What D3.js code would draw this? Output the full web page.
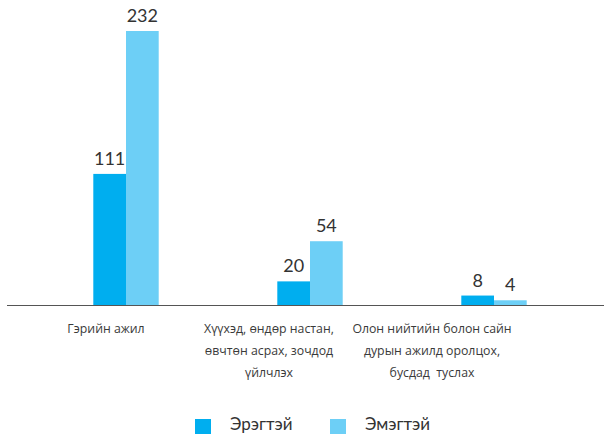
<!DOCTYPE html>
<html>
<head>
<meta charset="utf-8">
<script src="https://cdn.jsdelivr.net/npm/d3@7"></script>
<style>
  body { margin: 0; background: #fff; }
  text { font-family: Lato, "Open Sans", sans-serif; fill: #333; white-space: pre; }
  text.cat { font-family: "Open Sans", sans-serif; fill: #3a3a3a; }
</style>
</head>
<body>
<div id="chart"></div>
<script>
const categories = [
  ["Гэрийн ажил"],
  ["Хүүхэд, өндөр настан,", "өвчтөн асрах, зочдод", "үйлчлэх"],
  ["Олон нийтийн болон сайн", "дурын ажилд оролцох,", "бусдад  туслах"]
];
const seriesNames = ["Эрэгтэй", "Эмэгтэй"];
const men = [111, 20, 8];
const women = [232, 54, 4];
const colors = ["#00aeef", "#6dcff6"];

const W = 604, H = 434;
const svg = d3.select("#chart").append("svg")
  .attr("width", W).attr("height", H);

const idx = d3.range(categories.length);
const x0 = d3.scaleBand().domain(idx).range([34, 586]);
const barW = 32.7;
const x1 = d3.scaleBand().domain([0, 1])
  .range([x0.bandwidth() / 2 - barW, x0.bandwidth() / 2 + barW]);
const y = d3.scaleLinear().domain([0, 232]).range([305, 31]);

// category labels sit on their own spacing, left of the bar groups
const xl = d3.scalePoint().domain(idx).range([106, 432]);

const rows = idx.flatMap(i => [
  { i, s: 0, v: men[i] },
  { i, s: 1, v: women[i] }
]);

const g = svg.append("g");

g.selectAll("rect.bar")
  .data(rows)
  .enter().append("rect")
  .attr("class", "bar")
  .attr("x", d => x0(d.i) + x1(d.s))
  .attr("width", x1.bandwidth())
  .attr("y", d => y(d.v))
  .attr("height", d => y(0) - y(d.v))
  .attr("fill", d => colors[d.s]);

// axis line
g.append("line")
  .attr("x1", 7).attr("x2", W)
  .attr("y1", y(0) + 0.5).attr("y2", y(0) + 0.5)
  .attr("stroke", "#555").attr("stroke-width", 1.2);

// value labels
g.selectAll("text.val")
  .data(rows)
  .enter().append("text")
  .attr("class", "val")
  .attr("x", d => x0(d.i) + x1(d.s) + x1.bandwidth() / 2)
  .attr("y", d => y(d.v) - 9)
  .attr("text-anchor", "middle")
  .attr("font-size", 18)
  .text(d => d.v);

// category labels
const cl = g.selectAll("text.cat")
  .data(idx)
  .enter().append("text")
  .attr("class", "cat")
  .attr("text-anchor", "middle")
  .attr("font-size", 12.3)
  .attr("y", 333);

cl.selectAll("tspan")
  .data(i => categories[i].map(t => ({ i, t })))
  .enter().append("tspan")
  .attr("x", d => xl(d.i))
  .attr("dy", (d, k) => k === 0 ? 0 : 22)
  .text(d => d.t);

// legend
const lx = d3.scalePoint().domain([0, 1]).range([195, 330]);
const leg = svg.append("g").selectAll("g")
  .data(seriesNames)
  .enter().append("g")
  .attr("transform", (d, i) => `translate(${lx(i)},419)`);

leg.append("rect")
  .attr("width", 16).attr("height", 15)
  .attr("fill", (d, i) => colors[i]);

leg.append("text")
  .attr("x", 35).attr("y", 11)
  .attr("font-size", 17)
  .text(d => d);
</script>
</body>
</html>
